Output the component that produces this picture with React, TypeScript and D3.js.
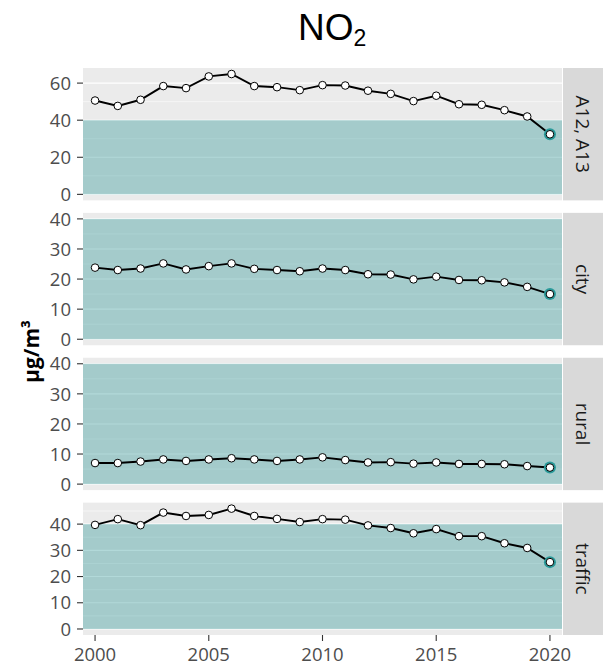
import React from 'react';
import * as d3 from 'd3';

// values
const years = [2000, 2001, 2002, 2003, 2004, 2005, 2006, 2007, 2008, 2009, 2010,
  2011, 2012, 2013, 2014, 2015, 2016, 2017, 2018, 2019, 2020];
const sites = ['A12, A13', 'city', 'rural', 'traffic'];
const a12a13 = [50.6, 47.7, 51, 58.4, 57.3, 63.6, 64.9, 58.4, 57.8, 56.2, 58.9,
  58.7, 55.9, 54.2, 50.3, 53.2, 48.6, 48.3, 45.4, 42, 32.4];
const city = [23.8, 23, 23.5, 25.2, 23.2, 24.3, 25.2, 23.4, 23, 22.6, 23.5,
  23, 21.6, 21.5, 19.9, 20.8, 19.7, 19.6, 18.9, 17.4, 15];
const rural = [7, 7, 7.5, 8.2, 7.7, 8.2, 8.6, 8.2, 7.7, 8.2, 8.9,
  8, 7.2, 7.3, 6.8, 7.2, 6.7, 6.7, 6.6, 6, 5.5];
const traffic = [39.7, 41.9, 39.6, 44.4, 43.1, 43.5, 45.9, 43.1, 42, 40.8, 41.9,
  41.7, 39.5, 38.5, 36.5, 38.1, 35.4, 35.4, 32.7, 30.9, 25.5];
const seriesList = [a12a13, city, rural, traffic];
const limitValue = 40; // EU limit value band 0..40
const xTicks = [2000, 2005, 2010, 2015, 2020];

const W = 610, H = 665;
const left = 83, right = 562, stripW = 40;
const top0 = 68, bottom = 635, gap = 12.5;
const panelH = (bottom - top0 - gap * 3) / 4;

const tickFont = "'Open Sans', 'Noto Sans', sans-serif";

const Panel = ({ idx }: { idx: number }) => {
  const vals = seriesList[idx];
  const top = top0 + idx * (panelH + gap);
  const x = d3.scaleLinear().domain([1999.47, 2020.53]).range([left, right]);
  const lo = Math.min(0, d3.min(vals)!);
  const hi = Math.max(limitValue, d3.max(vals)!);
  const pad = (hi - lo) * 0.05;
  const y = d3.scaleLinear().domain([lo - pad, hi + pad]).range([top + panelH, top]);
  const major = y.ticks(5);
  const step = major[1] - major[0];
  const minor = d3.range(major[0] - step / 2, hi + pad, step).filter(v => v > lo - pad && !major.includes(v));
  const line = d3.line<number>().x((_, i) => x(years[i])).y(v => y(v));
  const last = vals.length - 1;
  return (
    <g>
      <rect x={left} y={top} width={right - left} height={panelH} fill="#EBEBEB" />
      {minor.map(v => (
        <line key={'m' + v} x1={left} x2={right} y1={y(v)} y2={y(v)} stroke="#fff" strokeWidth={0.55} />
      ))}
      {major.map(v => (
        <line key={'M' + v} x1={left} x2={right} y1={y(v)} y2={y(v)} stroke="#fff" strokeWidth={1.1} />
      ))}
      <rect x={left} y={y(limitValue)} width={right - left} height={y(0) - y(limitValue)}
        fill="rgb(0,128,128)" fillOpacity={0.3} />
      <path d={line(vals) ?? ''} fill="none" stroke="#000" strokeWidth={1.9} />
      <circle cx={x(years[last])} cy={y(vals[last])} r={6} fill="#2a9a9a" />
      {vals.map((v, i) => (
        <circle key={i} cx={x(years[i])} cy={y(v)} r={3.8} fill="#fff" stroke="#000" strokeWidth={1} />
      ))}
      {major.map(v => (
        <g key={'t' + v}>
          <line x1={left - 6} x2={left} y1={y(v)} y2={y(v)} stroke="#333" strokeWidth={1.1} />
          <text x={left - 12} y={y(v)} dy="0.36em" textAnchor="end" fontSize={18.5}
            fill="#4D4D4D" fontFamily={tickFont}>{v}</text>
        </g>
      ))}
      <rect x={right + 1} y={top} width={stripW} height={panelH} fill="#D9D9D9" />
      <text transform={`translate(${right + 1 + stripW / 2},${top + panelH / 2}) rotate(90)`}
        textAnchor="middle" dy="0.36em" fontSize={19} fill="#1A1A1A" fontFamily={tickFont}>
        {sites[idx]}
      </text>
      {idx === 3 && xTicks.map(t => (
        <g key={'x' + t}>
          <line x1={x(t)} x2={x(t)} y1={top + panelH} y2={top + panelH + 6} stroke="#333" strokeWidth={1.1} />
          <text x={x(t)} y={top + panelH + 26} textAnchor="middle" fontSize={18.5}
            fill="#4D4D4D" fontFamily={tickFont}>{t}</text>
        </g>
      ))}
    </g>
  );
};

const App = () => (
  <svg width={W} height={H} style={{ display: 'block', position: 'absolute', left: 0, top: 0 }}>
    <rect width={W} height={H} fill="#fff" />
    <text x={298} y={40} fontSize={37} fontFamily="'Liberation Sans', Arial, sans-serif" fill="#000">
      NO<tspan fontSize={23} dy={6}>2</tspan>
    </text>
    <text transform={`translate(39,${(top0 + bottom) / 2}) rotate(-90)`} textAnchor="middle"
      fontSize={21} fontWeight="bold" fill="#000" fontFamily={tickFont}>µg/m³</text>
    {sites.map((_, i) => <Panel key={i} idx={i} />)}
  </svg>
);

export default App;
